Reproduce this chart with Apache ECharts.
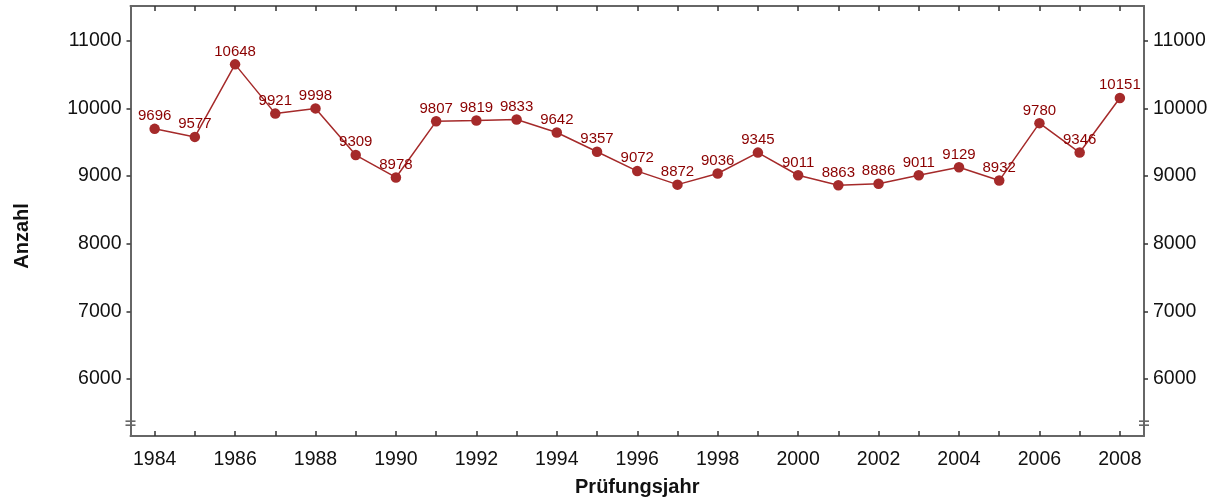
<!DOCTYPE html>
<html>
<head>
<meta charset="utf-8">
<script src="https://cdn.jsdelivr.net/npm/echarts@6/dist/echarts.min.js"></script>
<style>
  html, body { margin: 0; padding: 0; background: #fff; }
  #chart { width: 1224px; height: 503px; }
</style>
</head>
<body>
<div id="chart"></div>
<script>
const years = [1984, 1985, 1986, 1987, 1988, 1989, 1990, 1991, 1992, 1993, 1994, 1995, 1996,
  1997, 1998, 1999, 2000, 2001, 2002, 2003, 2004, 2005, 2006, 2007, 2008]
const counts = [9696, 9577, 10648, 9921, 9998, 9309, 8978, 9807, 9819, 9833, 9642, 9357, 9072,
  8872, 9036, 9345, 9011, 8863, 8886, 9011, 9129, 8932, 9780, 9346, 10151]
const yearLabels = [1984, 1986, 1988, 1990, 1992, 1994, 1996, 1998, 2000, 2002, 2004, 2006, 2008]
const yTicks = [6000, 7000, 8000, 9000, 10000, 11000]

const chart = echarts.init(document.getElementById('chart'))

const axisColor = '#666'
const font = 'Liberation Sans, Arial, sans-serif'
const plain = (v) => String(v)

const xBase = {
  type: 'value',
  min: 1983.4,
  max: 2008.6,
  splitLine: { show: false },
  axisLine: { show: true, onZero: false, lineStyle: { color: axisColor, width: 2 } },
  axisTick: { show: true, inside: true, length: 5, customValues: years, lineStyle: { color: '#333', width: 1.5 } }
}
const yBase = {
  type: 'value',
  min: 5160,
  max: 11510,
  splitLine: { show: false },
  axisLine: { show: true, lineStyle: { color: axisColor, width: 2 } },
  axisTick: { show: true, length: 4, customValues: yTicks, lineStyle: { color: '#333', width: 1.5 } },
  axisLabel: { customValues: yTicks, formatter: plain, color: '#111', fontSize: 19.5, fontFamily: font, margin: 9 }
}

const option = {
  animation: false,
  grid: { left: 130.5, right: 80, top: 6, bottom: 67, outerBoundsMode: 'none' },
  xAxis: [
    Object.assign({}, xBase, {
      position: 'bottom',
      name: 'Prüfungsjahr',
      nameLocation: 'middle',
      nameGap: 41,
      nameTextStyle: { color: '#111', fontSize: 20, fontWeight: 'bold', fontFamily: font },
      axisLabel: { customValues: yearLabels, formatter: plain, color: '#111', fontSize: 19.5, fontFamily: font, margin: 14 }
    }),
    Object.assign({}, xBase, {
      position: 'top',
      axisLabel: { show: false }
    })
  ],
  yAxis: [
    Object.assign({}, yBase, {
      position: 'left',
      name: 'Anzahl',
      nameLocation: 'middle',
      nameGap: 98,
      nameTextStyle: { color: '#111', fontSize: 20, fontWeight: 'bold', fontFamily: font, padding: [0, 30, 0, 0] }
    }),
    Object.assign({}, yBase, { position: 'right' })
  ],
  series: [
    {
      type: 'line',
      data: years.map((y, i) => [y, counts[i]]),
      symbol: 'circle',
      symbolSize: 10.5,
      lineStyle: { color: '#a52a2a', width: 1.5 },
      itemStyle: { color: '#a52a2a' },
      label: {
        show: true,
        position: 'top',
        distance: 0,
        color: '#8b0000',
        fontSize: 15,
        fontFamily: font
      }
    }
  ]
}

chart.setOption(option)

// axis break marks on both y axes
const breakY = chart.convertToPixel({ yAxisIndex: 0 }, 5350)
const leftX = chart.convertToPixel({ xAxisIndex: 0 }, 1983.4)
const rightX = chart.convertToPixel({ xAxisIndex: 0 }, 2008.6)
const marks = []
;[leftX, rightX].forEach((x) => {
  marks.push({ type: 'rect', shape: { x: x - 5, y: breakY - 1.5, width: 10, height: 3 }, style: { fill: '#fff' } })
  ;[-2, 2].forEach((d) => {
    marks.push({
      type: 'line',
      shape: { x1: x - 5, y1: breakY + d, x2: x + 5, y2: breakY + d },
      style: { stroke: '#333', lineWidth: 1.2 }
    })
  })
})
chart.setOption({ graphic: marks })
</script>
</body>
</html>
